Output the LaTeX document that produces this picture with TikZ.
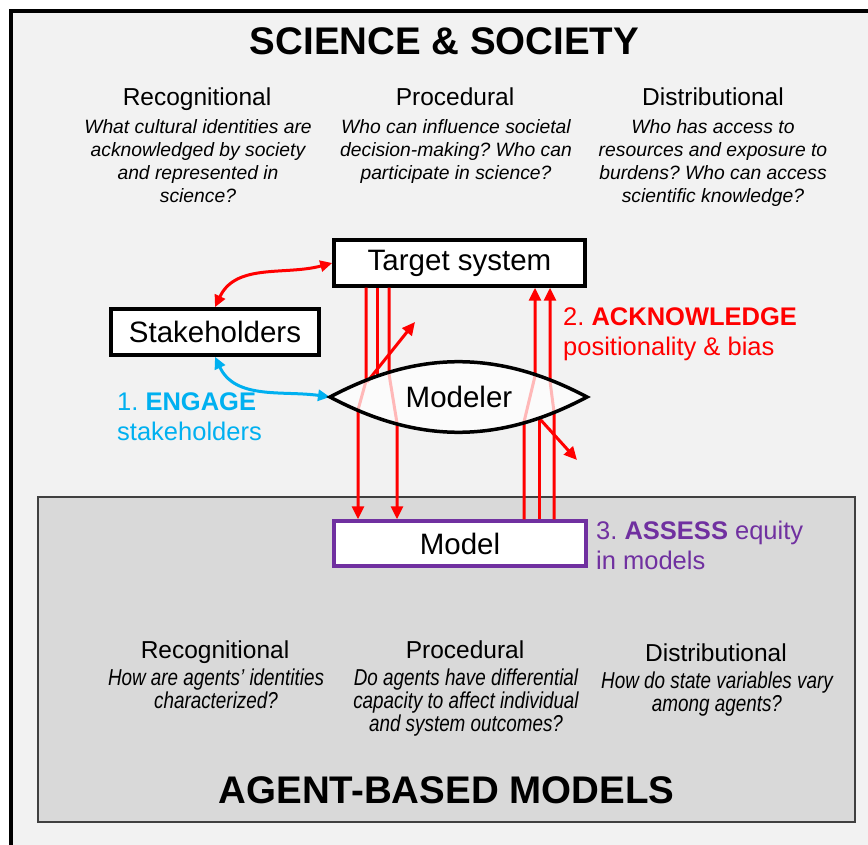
\documentclass[tikz,border=0pt]{standalone}
\usepackage{fontspec}
\setmainfont{Liberation Sans}
\newfontfamily\narrowfont[FakeStretch=0.82]{Liberation Sans}
\usetikzlibrary{positioning}
\usetikzlibrary{arrows.meta}
\definecolor{engageblue}{HTML}{00B0F0}
\definecolor{assesspurple}{HTML}{7030A0}
\definecolor{paper}{HTML}{F2F2F2}
\definecolor{abmgray}{HTML}{D9D9D9}
\frenchspacing

\tikzset{
	sysbox/.style={rectangle, draw=black, fill=white, line width=3.5pt, minimum height=46pt, inner sep=0pt, font=\fontsize{29.5}{34}\selectfont},
	ray/.style={draw=red, line width=3pt},
	raytip/.style={-{Triangle[length=13pt,width=12pt]}},
	heading/.style={inner sep=0pt, anchor=base, font=\fontsize{24.5}{29}\selectfont},
	question/.style={inner sep=0pt, anchor=north, align=center, font=\fontsize{19.3}{23}\selectfont\itshape},
	abmquestion/.style={inner sep=0pt, anchor=north, align=center, font=\narrowfont\itshape\fontsize{23}{23}\selectfont},
	steptext/.style={inner sep=0pt, anchor=north west, align=left, font=\fontsize{25.5}{30}\selectfont}
}

\begin{document}
\begin{tikzpicture}[x=1pt, y=-1pt]
		\useasboundingbox (0,0) rectangle (868,845);
		\draw[fill=paper, line width=4pt] (11,11.3) rectangle (900,900);
		\draw[fill=abmgray, draw=black!75, line width=1.8pt] (38,497) rectangle (855,822);

		% science and society
		\node[inner sep=0pt, anchor=base, font=\fontsize{38.5}{44}\selectfont\bfseries](title) at (444.5,55){SCIENCE \& SOCIETY};
		\node[heading](recog) at (197,106){Recognitional};
		\node[heading](proc) at (455,106){Procedural};
		\node[heading](dist) at (713,106){Distributional};
		\node[question](recogQ) at (198,119){What cultural identities are\\acknowledged by society\\and represented in\\science?};
		\node[question](procQ) at (456,119){Who can influence societal\\decision-making? Who can\\participate in science?};
		\node[question](distQ) at (713,119){Who has access to\\resources and exposure to\\burdens? Who can access\\scientific knowledge?};

		% agent-based models
		\node[heading](abmRecog) at (215,658){Recognitional};
		\node[heading](abmProc) at (465,658){Procedural};
		\node[heading](abmDist) at (716,661){Distributional};
		\node[abmquestion](abmRecogQ) at (216,669){How are agents’ identities\\characterized?};
		\node[abmquestion](abmProcQ) at (466,669){Do agents have differential\\capacity to affect individual\\and system outcomes?};
		\node[abmquestion](abmDistQ) at (717,672){How do state variables vary\\among agents?};
		\node[inner sep=0pt, anchor=base, font=\fontsize{38.5}{44}\selectfont\bfseries](abmTitle) at (446.5,803){AGENT-BASED MODELS};

		% boxes
		\node[sysbox, minimum width=251pt](target) at (459.5,263){Target system};
		\node[sysbox, minimum width=208pt](stake) at (215,332){Stakeholders};
		\node[sysbox, draw=assesspurple, minimum width=252pt, minimum height=45pt](model) at (460,543.5){Model};
		\coordinate (lensW) at (330,397);
		\coordinate (lensE) at (587,397);

		% step labels
		\node[steptext, text=engageblue](engageText) at (117,392){1. \textbf{ENGAGE}\\stakeholders};
		\node[steptext, text=red](ackText) at (563,307){2. \textbf{ACKNOWLEDGE}\\positionality \& bias};
		\node[steptext, text=assesspurple](assessText) at (596,521){3. \textbf{ASSESS} equity\\in models};

		% draw engage edges
		\draw[red, line width=3pt, {Triangle[length=12pt,width=11pt]}-{Triangle[length=12pt,width=11pt]}] (stake.north) to[out=65, in=195] (target.west);
		\draw[engageblue, line width=3pt, {Triangle[length=12pt,width=11pt]}-{Triangle[length=12pt,width=11pt]}] (stake.south) to[out=-65, in=172] (lensW);

		% draw rays down through the modeler
		\draw[ray, raytip] (366,0 |- target.south) -- (366,381) -- (358,410) -- (358,0 |- model.north);
		\draw[ray] (377,0 |- target.south) -- (377,377);
		\draw[ray, raytip] (367,382) -- (415,322);
		\draw[ray, raytip] (389,0 |- target.south) -- (389,374) -- (397,423) -- (397,0 |- model.north);

		% draw rays up through the modeler
		\draw[ray, raytip] (524,0 |- model.north) -- (524,422) -- (535,376) -- (535,0 |- target.south);
		\draw[ray] (539,0 |- model.north) -- (539,418);
		\draw[ray, raytip] (539,418) -- (577,460);
		\draw[ray, raytip] (554,0 |- model.north) -- (554,412) -- (550,381) -- (550,0 |- target.south);

		% modeler lens
		\draw[line width=3.5pt, fill=white, fill opacity=0.72] (lensW) to[bend left=28] (lensE) to[bend left=28] cycle;
		\node[inner sep=0pt, font=\fontsize{29.5}{34}\selectfont](modeler) at (459,397){Modeler};
\end{tikzpicture}
\end{document}
